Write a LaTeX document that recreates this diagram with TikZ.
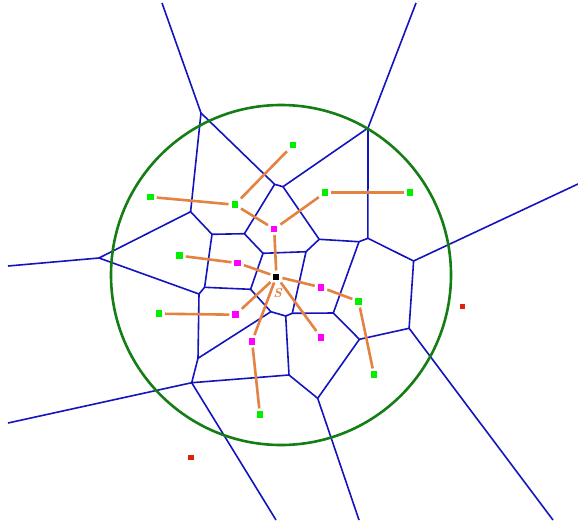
\documentclass[tikz,border=0pt]{standalone}
\usepackage{xcolor}
\usepackage{tikz}
\definecolor{vblue}{RGB}{20,20,190}
\definecolor{cgreen}{RGB}{20,125,20}
\definecolor{lorange}{RGB}{228,130,65}
\definecolor{pgreen}{RGB}{0,240,0}
\definecolor{pmag}{RGB}{255,0,255}
\definecolor{pred}{RGB}{220,35,10}
\tikzset{
  vor/.style={vblue,line width=1.6pt},
  rng/.style={cgreen,line width=2.6pt},
  lnk/.style={lorange,line width=2.6pt},
  pt/.style={rectangle,inner sep=0pt,minimum size=6.5pt,outer sep=3pt},
  gpt/.style={pt,fill=pgreen},
  mpt/.style={pt,fill=pmag},
  rpt/.style={pt,fill=pred,minimum size=5.5pt},
  spt/.style={pt,fill=black,minimum size=6pt}
}
\begin{document}
\begin{tikzpicture}[x=1pt,y=-1pt]
\useasboundingbox[fill=white] (0,0) rectangle (578,523);
\coordinate (t1) at (162,3); \coordinate (t2) at (416,3);
\coordinate (l1) at (8,266); \coordinate (l2) at (8,423);
\coordinate (r1) at (578,184);
\coordinate (b1) at (276,520); \coordinate (b2) at (359,520); \coordinate (b3) at (553,520);
\coordinate (va) at (201,113); \coordinate (vb) at (368,128);
\coordinate (vl) at (99,258);
\coordinate (v1) at (190.6,211.7); \coordinate (v2) at (274.6,184.3);
\coordinate (v3) at (283,186.7); \coordinate (v4) at (212,234.3);
\coordinate (v5) at (244.4,233.7); \coordinate (v6) at (319.2,239.3);
\coordinate (v7) at (359,241.7); \coordinate (v8) at (367.9,238.3);
\coordinate (v9) at (413.6,261); \coordinate (v10) at (306,251.7);
\coordinate (v11) at (263,253.3); \coordinate (v12) at (250.6,289.3);
\coordinate (v13) at (204.6,287.3); \coordinate (v14) at (199,294);
\coordinate (v15) at (270.9,311.7); \coordinate (v16) at (285.7,316);
\coordinate (v17) at (292.3,313.3); \coordinate (v18) at (333.3,313);
\coordinate (v19) at (359.4,339.3); \coordinate (v20) at (409.1,328.3);
\coordinate (v21) at (317.7,398.3); \coordinate (v22) at (289,375);
\coordinate (v23) at (191.7,382.7); \coordinate (v24) at (198,358.3);
\draw[vor] (t1) -- (va) -- (v1) -- (vl) -- (l1);
\draw[vor] (t2) -- (vb) -- (v8) -- (v9) -- (r1);
\draw[vor] (va) -- (v2) -- (v3) -- (vb);
\draw[vor] (v1) -- (v4) -- (v5) -- (v2);
\draw[vor] (vl) -- (v14) -- (v13) -- (v4);
\draw[vor] (v5) -- (v11) -- (v12) -- (v13);
\draw[vor] (v3) -- (v6) -- (v7) -- (v8);
\draw[vor] (v6) -- (v10) -- (v11);
\draw[vor] (v10) -- (v17) -- (v16) -- (v15) -- (v12);
\draw[vor] (v17) -- (v18) -- (v7);
\draw[vor] (v18) -- (v19) -- (v20) -- (v9);
\draw[vor] (v20) -- (b3);
\draw[vor] (v19) -- (v21) -- (b2);
\draw[vor] (v21) -- (v22) -- (v16);
\draw[vor] (v22) -- (v23) -- (v24) -- (v14);
\draw[vor] (v24) -- (v15);
\draw[vor] (l2) -- (v23) -- (b1);
\draw[rng] (281,275) circle (170);
\node[spt] (s) at (276.4,276.5) {};
\node[gpt] (g1) at (293,145) {};
\node[gpt] (g2) at (150.4,197) {};
\node[gpt] (g3) at (234.8,204.7) {};
\node[gpt] (g4) at (325,192.7) {};
\node[gpt] (g5) at (410,192.7) {};
\node[gpt] (g6) at (179.5,255.7) {};
\node[gpt] (g7) at (158.9,313.7) {};
\node[gpt] (g8) at (358.6,301.3) {};
\node[gpt] (g9) at (374,374.7) {};
\node[gpt] (g10) at (259.9,414.7) {};
\node[mpt] (m1) at (274.2,229) {};
\node[mpt] (m2) at (237.7,263) {};
\node[mpt] (m3) at (321,287.3) {};
\node[mpt] (m4) at (235.5,314.7) {};
\node[mpt] (m5) at (321,337.3) {};
\node[mpt] (m6) at (252.1,341.3) {};
\node[rpt] (r1p) at (462.6,306.7) {};
\node[rpt] (r2p) at (190.9,457.7) {};
\draw[lnk] (g1) -- (g3); \draw[lnk] (g2) -- (g3); \draw[lnk] (g3) -- (m1);
\draw[lnk] (g4) -- (m1); \draw[lnk] (g4) -- (g5); \draw[lnk] (m1) -- (s);
\draw[lnk] (g6) -- (m2); \draw[lnk] (m2) -- (s); \draw[lnk] (s) -- (m3);
\draw[lnk] (m3) -- (g8); \draw[lnk] (g8) -- (g9); \draw[lnk] (s) -- (m4);
\draw[lnk] (g7) -- (m4); \draw[lnk] (s) -- (m6); \draw[lnk] (m6) -- (g10);
\draw[lnk] (s) -- (m5);
\node[text=lorange,font=\fontsize{13}{13}\selectfont\bfseries\itshape,inner sep=0pt] (slab) at (277.5,293) {S};
\end{tikzpicture}
\end{document}
